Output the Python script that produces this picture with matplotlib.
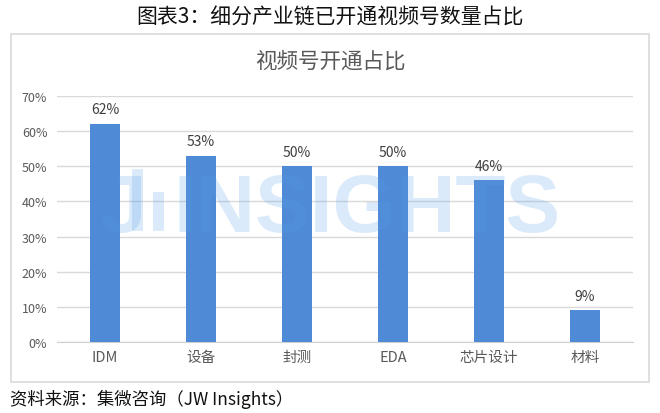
import matplotlib
matplotlib.use("Agg")
import matplotlib.pyplot as plt
from matplotlib.patches import Rectangle

plt.rcParams['font.family'] = ['Noto Sans CJK SC', 'DejaVu Sans']

categories = ["IDM", "设备", "封测", "EDA", "芯片设计", "材料"]
values = [62, 53, 50, 50, 46, 9]
yticks = [0, 10, 20, 30, 40, 50, 60, 70]
ytick_labels = [f"{v}%" for v in yticks]
title_outer = "图表3：细分产业链已开通视频号数量占比"
title_inner = "视频号开通占比"
source = "资料来源：集微咨询（JW Insights）"

W, H = 660, 414
fig = plt.figure(figsize=(W / 100, H / 100), dpi=100)
fig.patch.set_facecolor("white")

# chart frame
fig.patches.append(Rectangle((11 / W, 1 - 383 / H), 638 / W, 348 / H,
                             transform=fig.transFigure, fill=False,
                             edgecolor="#d9d9d9", linewidth=1.2))

fig.text(0.5, 1 - 18 / H, title_outer, ha="center", va="center",
         fontsize=15, color="#111111", fontweight="medium")
fig.text(0.5, 1 - 62 / H, title_inner, ha="center", va="center",
         fontsize=15.5, color="#595959")
fig.text(10 / W, 1 - 399 / H, source, ha="left", va="center",
         fontsize=12.5, color="#111111", style="italic")

ax = fig.add_axes([57 / W, 1 - 343 / H, 576 / W, 246 / H])
x = list(range(len(categories)))
bars = ax.bar(x, values, width=0.31, color="#4f8ad6", zorder=3)
for xi, v in zip(x, values):
    ax.text(xi, v + 2.2, f"{v}%", ha="center", va="bottom", fontsize=10,
            color="#404040", zorder=4)

ax.set_xlim(-0.5, len(categories) - 0.5)
ax.set_ylim(0, 70)
ax.set_yticks(yticks)
ax.set_yticklabels(ytick_labels)
ax.set_xticks(x)
ax.set_xticklabels(categories)
ax.tick_params(axis="both", length=0, colors="#595959")
ax.tick_params(axis="y", labelsize=9, pad=7)
ax.tick_params(axis="x", labelsize=10.5, pad=6)
ax.grid(axis="y", color="#d9d9d9", linewidth=1, zorder=0)
for s in ["top", "right", "left"]:
    ax.spines[s].set_visible(False)
ax.spines["bottom"].set_color("#d0d0d0")
ax.set_facecolor("none")

# watermark (JW INSIGHTS logo)
wm_color = "#5aa0ea"
wm_alpha = 0.22
fig.text(101 / W, 1 - 232 / H, "J", ha="left", va="baseline",
         fontsize=59, fontweight="bold", color=wm_color, alpha=wm_alpha,
         family="Liberation Sans", zorder=5)
fig.text(173 / W, 1 - 232 / H, "INSIGHTS", ha="left", va="baseline",
         fontsize=59, fontweight="bold", color=wm_color, alpha=wm_alpha,
         family="Liberation Sans", zorder=5)
for (x0, y0, y1) in [(132, 170, 232), (153, 193, 232)]:
    fig.patches.append(Rectangle((x0 / W, 1 - y1 / H), 11 / W, (y1 - y0) / H,
                                 transform=fig.transFigure, color=wm_color,
                                 alpha=wm_alpha, zorder=5, linewidth=0))

fig.savefig("out.png", dpi=100)
